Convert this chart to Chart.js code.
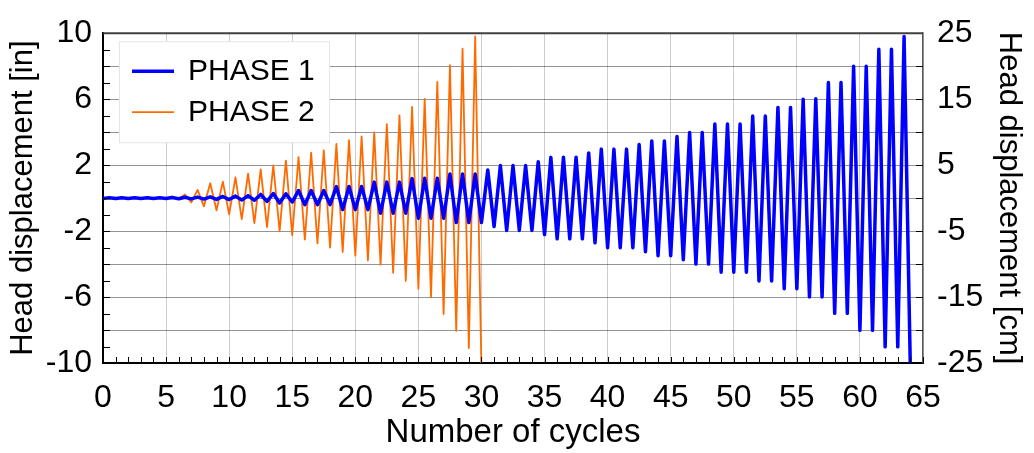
<!DOCTYPE html>
<html>
<head>
<meta charset="utf-8">
<script src="https://cdn.jsdelivr.net/npm/chart.js@4.4.1/dist/chart.umd.min.js"></script>
<style>
  html, body { margin: 0; padding: 0; background: #fff; }
</style>
</head>
<body>
<canvas id="chart" width="1034" height="453"></canvas>
<script>
// head displacement per cycle [in]: trough at cycle n, peak at n + 0.5
const phase1Troughs = [
  -0.02, -0.02, -0.02, -0.02, -0.02, -0.02, -0.04, -0.05, -0.06, -0.08,
  -0.09, -0.12, -0.13, -0.2, -0.3, -0.24, -0.4, -0.4, -0.4, -0.7,
  -0.7, -0.7, -0.92, -0.92, -0.92, -1.22, -1.22, -1.22, -1.48, -1.48,
  -1.48, -1.72, -1.96, -1.96, -1.96, -2.21, -2.47, -2.47, -2.47, -2.71,
  -3.01, -3.01, -3.01, -3.25, -3.49, -3.49, -3.74, -4.0, -4.0, -4.49,
  -4.49, -4.49, -5.02, -5.02, -5.5, -5.5, -5.99, -5.99, -6.99, -6.99,
  -8.02, -8.02, -9.02, -9.02, -10.4
];
const phase1Peaks = [
  0.02, 0.02, 0.02, 0.02, 0.02, 0.03, 0.05, 0.06, 0.08, 0.1,
  0.12, 0.15, 0.22, 0.28, 0.26, 0.46, 0.46, 0.46, 0.7, 0.7,
  0.7, 0.97, 0.97, 0.97, 1.18, 1.2, 1.2, 1.46, 1.46, 1.46,
  1.7, 1.97, 1.97, 1.97, 2.21, 2.47, 2.48, 2.48, 2.74, 2.97,
  2.97, 2.97, 3.25, 3.47, 3.47, 3.74, 3.98, 3.98, 4.49, 4.49,
  4.49, 4.98, 4.98, 5.5, 5.5, 5.99, 6.02, 7.01, 7.01, 7.99,
  7.99, 9.02, 9.02, 9.8
];
const phase2Troughs = [
  0, 0, 0, 0, 0, 0, -0.05, -0.26, -0.5, -0.74,
  -0.98, -1.27, -1.52, -1.76, -2.01, -2.25, -2.51, -2.75, -3.0, -3.26,
  -3.49, -3.78, -4.04, -4.53, -5.02, -5.49, -6.01, -7.03, -8.05, -9.09,
  -10.4
];
const phase2Peaks = [
  0, 0, 0, 0, 0, 0.1, 0.22, 0.5, 0.9, 1.0,
  1.25, 1.48, 1.74, 1.98, 2.27, 2.49, 2.76, 2.9, 3.28, 3.51,
  3.74, 3.98, 4.49, 5.02, 5.53, 6.01, 7.05, 8.07, 9.06, 9.8
];

const inLabels = [10, 6, 2, -2, -6, -10];
const cmLabels = [25, 15, 5, -5, -15, -25];

const FONT = "'Liberation Sans', Arial, sans-serif";

function cyclePoints(troughs, peaks) {
  const pts = [];
  troughs.forEach((t, n) => {
    pts.push({ x: n, y: t });
    if (n < peaks.length) pts.push({ x: n + 0.5, y: peaks[n] });
  });
  return pts;
}

// inward minor ticks, top frame line and the boxed legend
const frame = {
  id: 'frame',
  afterDraw(chart) {
    const { ctx, chartArea: a, scales } = chart;
    ctx.save();
    ctx.strokeStyle = '#000';
    ctx.lineWidth = 1;
    ctx.beginPath();
    for (let c = 0; c <= 65; c++) {
      const x = Math.round(scales.x.getPixelForValue(c)) + 0.5;
      ctx.moveTo(x, a.bottom);
      ctx.lineTo(x, a.bottom - 6);
    }
    for (let v = -10; v <= 10; v++) {
      const y = Math.round(scales.y.getPixelForValue(v)) + 0.5;
      ctx.moveTo(a.left, y);
      ctx.lineTo(a.left + 7, y);
    }
    for (let v = -25; v <= 25; v += 5) {
      const y = Math.round(scales.y2.getPixelForValue(v)) + 0.5;
      ctx.moveTo(a.right, y);
      ctx.lineTo(a.right - 7, y);
    }
    ctx.stroke();

    ctx.strokeStyle = '#404040';
    ctx.lineWidth = 2;
    ctx.beginPath();
    ctx.moveTo(a.left, a.top);
    ctx.lineTo(a.right, a.top);
    ctx.stroke();

    // legend
    const bx = a.left + 16, by = a.top + 8, bw = 210, bh = 101;
    ctx.fillStyle = '#fff';
    ctx.fillRect(bx, by, bw, bh);
    ctx.strokeStyle = '#e4e4e4';
    ctx.lineWidth = 1;
    ctx.strokeRect(bx + 0.5, by + 0.5, bw, bh);
    ctx.font = '30px ' + FONT;
    ctx.textBaseline = 'middle';
    ctx.fillStyle = '#000';
    chart.data.datasets.forEach((ds, i) => {
      const y = by + 30 + i * 41;
      ctx.strokeStyle = ds.borderColor;
      ctx.lineWidth = ds.borderWidth;
      ctx.beginPath();
      ctx.moveTo(bx + 13, y);
      ctx.lineTo(bx + 55, y);
      ctx.stroke();
      ctx.fillText(ds.label, bx + 69, y + 1);
    });
    ctx.restore();
  }
};

new Chart(document.getElementById('chart'), {
  type: 'scatter',
  data: {
    datasets: [
      {
        label: 'PHASE 1',
        data: cyclePoints(phase1Troughs, phase1Peaks),
        showLine: true,
        borderColor: '#0000ff',
        borderWidth: 3.5,
        borderJoinStyle: 'round',
        pointRadius: 0,
        yAxisID: 'y'
      },
      {
        label: 'PHASE 2',
        data: cyclePoints(phase2Troughs, phase2Peaks),
        showLine: true,
        borderColor: '#ff6a00',
        borderWidth: 1.8,
        borderJoinStyle: 'round',
        pointRadius: 0,
        yAxisID: 'y'
      }
    ]
  },
  options: {
    responsive: false,
    animation: false,
    devicePixelRatio: 1,
    layout: { padding: { top: 24 } },
    plugins: { legend: { display: false }, tooltip: { enabled: false } },
    scales: {
      x: {
        type: 'linear',
        min: 0,
        max: 65,
        ticks: { stepSize: 5, autoSkip: false, maxRotation: 0, padding: 16, color: '#000', font: { size: 32, family: FONT } },
        grid: { color: 'rgba(0,0,0,0.2)', drawTicks: false },
        border: { color: '#000', width: 2 },
        title: { display: true, text: 'Number of cycles', color: '#000', font: { size: 33, family: FONT }, padding: { top: 0, bottom: 0 } },
        afterFit: s => { s.height = 90; }
      },
      y: {
        position: 'left',
        min: -10,
        max: 10,
        ticks: {
          stepSize: 2, autoSkip: false, padding: 11, color: '#000', font: { size: 32, family: FONT },
          callback: v => inLabels.includes(v) ? String(v) : ''
        },
        grid: { color: 'rgba(0,0,0,0.42)', drawTicks: false },
        border: { color: '#000', width: 2 },
        title: { display: true, text: 'Head displacement [in]', color: '#000', font: { size: 31, family: FONT }, padding: { top: 5, bottom: 0 } },
        afterFit: s => { s.width = 103; }
      },
      y2: {
        position: 'right',
        min: -25,
        max: 25,
        ticks: {
          stepSize: 5, autoSkip: false, padding: 14, color: '#000', font: { size: 32, family: FONT },
          callback: v => cmLabels.includes(v) ? String(v) : ''
        },
        grid: { display: false, drawTicks: false },
        border: { color: '#555', width: 1.5 },
        title: { display: true, text: 'Head displacement [cm]', color: '#000', font: { size: 31, family: FONT }, padding: { top: 7, bottom: 0 } },
        afterFit: s => { s.width = 111; }
      }
    }
  },
  plugins: [frame]
});
</script>
</body>
</html>
